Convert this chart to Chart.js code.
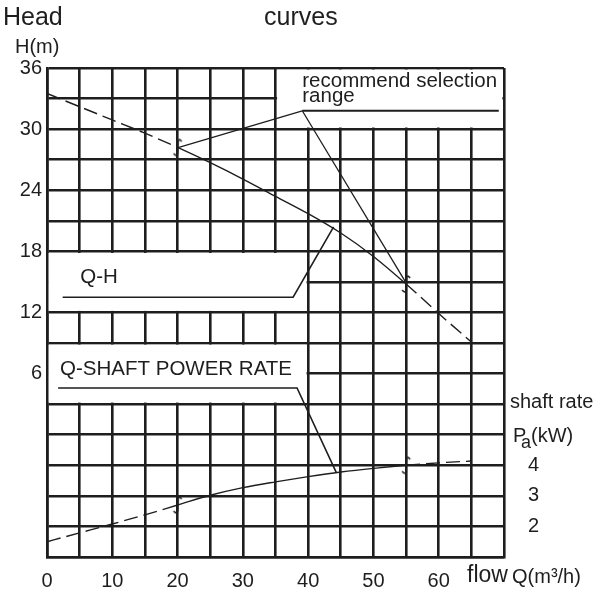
<!DOCTYPE html>
<html>
<head>
<meta charset="utf-8">
<script src="https://cdn.jsdelivr.net/npm/chart.js@4.4.1/dist/chart.umd.min.js"></script>
<style>
  html, body { margin: 0; padding: 0; background: #fff; }
  canvas { display: block; }
</style>
</head>
<body>
<canvas id="pumpChart" width="597" height="594"></canvas>
<script>
// flow Q (m3/h)
const flowQ = [0, 5, 10, 15, 20, 25, 30, 35, 40, 45, 50, 55, 60, 65];
// head H (m)
const headH = [33.5, 32.2, 30.9, 29.6, 28.2, 26.7, 25.1, 23.4, 21.7, 19.8, 17.5, 14.8, 11.9, 9.1];
// shaft power Pa (kW)
const powerP = [1.5, 1.79, 2.08, 2.38, 2.7, 3.02, 3.27, 3.46, 3.63, 3.78, 3.9, 4.0, 4.08, 4.14];

// recommended range limits (flow)
const rangeQ = [20, 55];

// tick labels shown
const xTickLabels = [0, 10, 20, 30, 40, 50, 60];
const hTickLabels = [6, 12, 18, 24, 30, 36];
const pTickLabels = [2, 3, 4];

const ink = '#1e1e1e';
const font = '"Liberation Sans", Arial, sans-serif';

const dashed = ctx => (ctx.p1.parsed.x <= rangeQ[0] || ctx.p0.parsed.x >= rangeQ[1]) ? [14, 6] : undefined;

// little hook marks where the solid part starts / ends
const hook = document.createElement('canvas');
hook.width = 14; hook.height = 20;
(function () {
    const c = hook.getContext('2d');
    c.strokeStyle = ink;
    c.lineWidth = 1.5;
    c.beginPath();
    c.moveTo(11, 4);
    c.quadraticCurveTo(8, 0, 7.5, 4);
    c.lineTo(7, 16);
    c.quadraticCurveTo(6.5, 20, 3, 16);
    c.stroke();
})();

const pts = (xs, ys) => xs.map((q, i) => ({x: q, y: ys[i]}));
const at = (ys, q) => ys[flowQ.indexOf(q)];

const QH = {
    label: 'Q-H',
    data: pts(flowQ, headH),
    yAxisID: 'y',
    showLine: true,
    borderColor: ink,
    borderWidth: 1.4,
    pointRadius: 0,
    cubicInterpolationMode: 'monotone',
    segment: { borderDash: dashed }
};

const QP = {
    label: 'Q-shaft power',
    data: pts(flowQ, powerP),
    yAxisID: 'yP',
    showLine: true,
    borderColor: ink,
    borderWidth: 1.4,
    pointRadius: 0,
    cubicInterpolationMode: 'monotone',
    segment: { borderDash: dashed }
};

const hooksH = {
    data: rangeQ.map(q => ({x: q, y: at(headH, q)})),
    yAxisID: 'y',
    showLine: false,
    pointStyle: hook,
    pointRadius: 7
};

const hooksP = {
    data: rangeQ.map(q => ({x: q, y: at(powerP, q)})),
    yAxisID: 'yP',
    showLine: false,
    pointStyle: hook,
    pointRadius: 7
};

// leader lines for the notes
const leader = (data, axis, w) => ({
    data: data, yAxisID: axis, showLine: true, borderColor: ink,
    borderWidth: w, pointRadius: 0, tension: 0
});
const rangeUnder = leader([{x: 39.1, y: 31.8}, {x: 69.2, y: 31.8}], 'y', 2);
const rangeLeft = leader([{x: 39.1, y: 31.8}, {x: 20.2, y: 28.2}], 'y', 1.3);
const rangeRight = leader([{x: 39.1, y: 31.8}, {x: 55, y: 14.9}], 'y', 1.3);
const qhNote = leader([{x: 2.4, y: 13.5}, {x: 37.7, y: 13.5}, {x: 43.9, y: 20.4}], 'y', 1.6);
const qpNote = leader([{x: 1.7, y: 6.53}, {x: 38.3, y: 6.53}, {x: 44.3, y: 3.77}], 'yP', 1.6);

// blank boxes in the grid (Q from, Q to, H from, H to)
const blankBoxes = [[35, 70, 30, 36], [0, 40, 12, 18], [0, 40, 3, 9]];

const blanks = {
    id: 'blanks',
    beforeDatasetsDraw(chart) {
        const {ctx, scales: {x, y}} = chart;
        ctx.save();
        ctx.fillStyle = '#fff';
        blankBoxes.forEach(b => {
            const l = x.getPixelForValue(b[0]) + 1.6, r = x.getPixelForValue(b[1]) - 1.6;
            const t = y.getPixelForValue(b[3]) + 1.6, btm = y.getPixelForValue(b[2]) - 1.6;
            ctx.fillRect(l, t, r - l, btm - t);
        });
        ctx.restore();
    }
};

const texts = {
    id: 'texts',
    afterDatasetsDraw(chart) {
        const {ctx, scales: {x, y}} = chart;
        ctx.save();
        ctx.fillStyle = ink;
        ctx.textBaseline = 'alphabetic';
        ctx.textAlign = 'left';
        ctx.font = '20.5px ' + font;
        ctx.fillText('recommend selection', x.getPixelForValue(39.1), y.getPixelForValue(34.1));
        ctx.fillText('range', x.getPixelForValue(39.1), y.getPixelForValue(32.65));
        ctx.fillText('Q-H', x.getPixelForValue(5.1), y.getPixelForValue(14.9));
        ctx.fillText('Q-SHAFT POWER RATE', x.getPixelForValue(2.0), y.getPixelForValue(5.85));

        ctx.font = '25px ' + font;
        ctx.fillText('Head', 3, 25);
        ctx.fillText('curves', 264, 25);
        ctx.font = '20px ' + font;
        ctx.fillText('H(m)', 15, 53);
        ctx.fillText('shaft rate', 510, 408);
        ctx.fillText('P', 513, 442);
        ctx.font = '18px ' + font;
        ctx.fillText('a', 521, 448);
        ctx.font = '20px ' + font;
        ctx.fillText('(kW)', 531, 442);
        ctx.font = '23px ' + font;
        ctx.fillText('flow', 467, 582);
        ctx.font = '20px ' + font;
        ctx.fillText('Q(m³/h)', 512, 583);
        ctx.restore();
    }
};

const gridLine = { color: ink, lineWidth: 2.6, drawTicks: false };
const border = { display: true, color: ink, width: 2.6 };

const config = {
    type: 'scatter',
    data: {
        datasets: [QH, QP, hooksH, hooksP, rangeUnder, rangeLeft, rangeRight, qhNote, qpNote]
    },
    options: {
        responsive: false,
        animation: false,
        layout: { padding: { top: 68, left: 0, right: 0, bottom: 0 } },
        plugins: {
            legend: false,
            tooltip: { enabled: false }
        },
        scales: {
            x: {
                type: 'linear',
                min: 0,
                max: 70,
                grid: gridLine,
                border: border,
                afterFit: s => { s.height = 37; },
                ticks: {
                    stepSize: 5,
                    autoSkip: false,
                    maxRotation: 0,
                    padding: 12,
                    color: ink,
                    font: { family: font, size: 20 },
                    callback: v => xTickLabels.includes(v) ? v : ''
                }
            },
            y: {
                min: -12,
                max: 36,
                grid: gridLine,
                border: border,
                afterFit: s => { s.width = 47; },
                ticks: {
                    stepSize: 3,
                    autoSkip: false,
                    padding: 5,
                    color: ink,
                    font: { family: font, size: 20 },
                    callback: v => hTickLabels.includes(v) ? v : ''
                }
            },
            yP: {
                position: 'right',
                min: 1,
                max: 17,
                grid: { display: false, drawTicks: false },
                border: { display: false },
                afterFit: s => { s.width = 93; },
                ticks: {
                    stepSize: 1,
                    autoSkip: false,
                    padding: 24,
                    color: ink,
                    font: { family: font, size: 20 },
                    callback: v => pTickLabels.includes(v) ? v : ''
                }
            }
        }
    },
    plugins: [blanks, texts]
};

const pumpChart = new Chart(document.getElementById('pumpChart'), config);
</script>
</body>
</html>
